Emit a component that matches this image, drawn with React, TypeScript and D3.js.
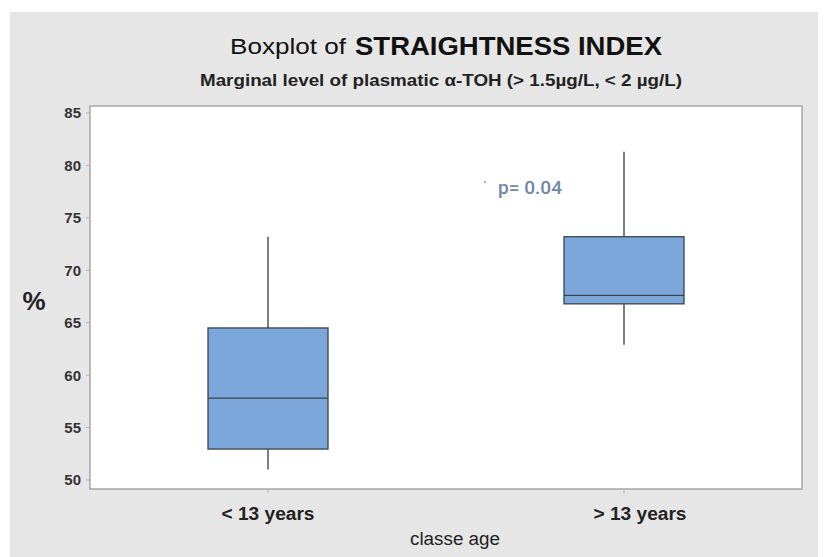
import React from "react";
import * as d3 from "d3";

const categories = ["< 13 years", "> 13 years"];
const whiskerLow = [51.0, 62.9];
const q1 = [52.95, 66.8];
const median = [57.8, 67.6];
const q3 = [64.5, 73.2];
const whiskerHigh = [73.2, 81.3];
const yTicks = [50, 55, 60, 65, 70, 75, 80, 85];

const W = 828;
const H = 557;
const plot = { left: 90, right: 802, top: 106, bottom: 489 };

export default function App() {
  const y = d3.scaleLinear().domain([50, 85]).range([480, 113]);
  const x = d3.scalePoint<string>().domain(categories).range([268, 624]);
  const boxW = 120;
  const font = "'Liberation Sans', Arial, sans-serif";
  return (
    <svg width={W} height={H} style={{ position: "absolute", left: 0, top: 0 }}>
      <rect x={0} y={0} width={W} height={H} fill="#ffffff" />
      <rect x={10} y={12} width={808} height={H - 12} fill="#e6e6e6" />
      <rect
        x={plot.left}
        y={plot.top}
        width={plot.right - plot.left}
        height={plot.bottom - plot.top}
        fill="#ffffff"
        stroke="#a6a6a6"
        strokeWidth={1.5}
      />
      <text x={230} y={54} fontFamily={font} fontSize={22} fill="#111" textLength={116} lengthAdjust="spacingAndGlyphs">
        Boxplot of
      </text>
      <text x={355} y={55} fontFamily={font} fontSize={26} fontWeight="bold" fill="#111" textLength={307} lengthAdjust="spacingAndGlyphs">
        STRAIGHTNESS INDEX
      </text>
      <text x={200} y={86} fontFamily={font} fontSize={16.5} fontWeight="bold" fill="#222" textLength={482} lengthAdjust="spacingAndGlyphs">
        Marginal level of plasmatic α-TOH (&gt; 1.5µg/L, &lt; 2 µg/L)
      </text>
      {yTicks.map((t) => (
        <g key={t}>
          <line x1={plot.left - 4} x2={plot.left} y1={y(t)} y2={y(t)} stroke="#b0b0b0" />
          <text
            x={81}
            y={y(t)}
            dy="0.36em"
            textAnchor="end"
            fontFamily={font}
            fontSize={15}
            fontWeight="bold"
            fill="#333"
          >
            {t}
          </text>
        </g>
      ))}
      <text x={34} y={301} dy="0.36em" textAnchor="middle" fontFamily={font} fontSize={26} fontWeight="bold" fill="#222">
        %
      </text>
      {categories.map((c, i) => {
        const cx = x(c)!;
        return (
          <g key={c}>
            <line x1={cx} x2={cx} y1={plot.bottom} y2={plot.bottom + 4} stroke="#b0b0b0" />
            <text
              x={cx + (i === 1 ? 16 : 0) - 46.5}
              y={520}
              fontFamily={font}
              fontSize={18}
              fontWeight="bold"
              fill="#222"
              textLength={93}
              lengthAdjust="spacingAndGlyphs"
            >
              {c}
            </text>
            <line x1={cx} x2={cx} y1={y(whiskerHigh[i])} y2={y(q3[i])} stroke="#3a3a3a" strokeWidth={1.3} />
            <line x1={cx} x2={cx} y1={y(q1[i])} y2={y(whiskerLow[i])} stroke="#3a3a3a" strokeWidth={1.3} />
            <rect
              x={cx - boxW / 2}
              y={y(q3[i])}
              width={boxW}
              height={y(q1[i]) - y(q3[i])}
              fill="#7ba7da"
              stroke="#3a4350"
              strokeWidth={1.3}
            />
            <line
              x1={cx - boxW / 2}
              x2={cx + boxW / 2}
              y1={y(median[i])}
              y2={y(median[i])}
              stroke="#3a4350"
              strokeWidth={1.3}
            />
          </g>
        );
      })}
      <text x={410} y={545} fontFamily={font} fontSize={18} fill="#222" textLength={90} lengthAdjust="spacingAndGlyphs">
        classe age
      </text>
      <circle cx={485} cy={182} r={1} fill="#7a9bc0" />
      <text x={498} y={194} fontFamily="Roboto, sans-serif" fontSize={18} fontWeight={500} fill="#7088a8" textLength={64} lengthAdjust="spacingAndGlyphs">
        p= 0.04
      </text>
    </svg>
  );
}
